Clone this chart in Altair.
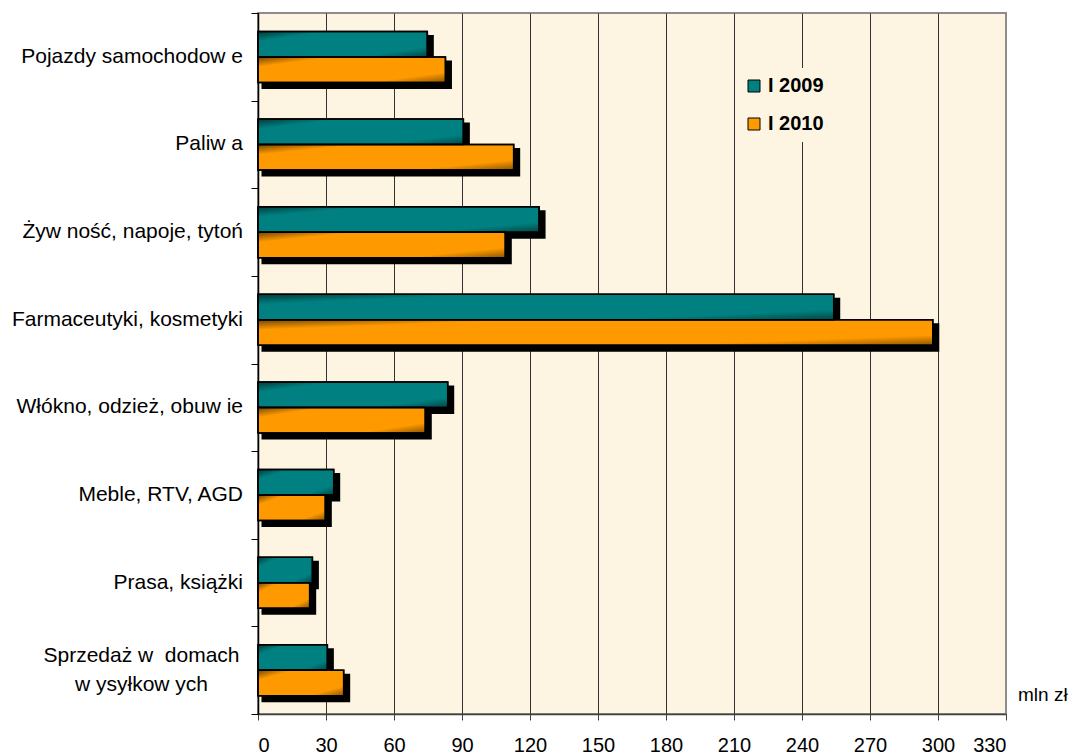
import altair as alt
import pandas as pd

categories = [
    "Pojazdy samochodow e",
    "Paliw a",
    "Żyw ność, napoje, tytoń",
    "Farmaceutyki, kosmetyki",
    "Włókno, odzież, obuw ie",
    "Meble, RTV, AGD",
    "Prasa, książki",
    "Sprzedaż w \u00a0domach\nw ysyłkow ych",
]
series = ["I 2009", "I 2010"]
values_2009 = [74.7, 90.6, 124.0, 254.0, 83.7, 33.4, 24.0, 30.6]
values_2010 = [82.7, 112.8, 109.1, 297.7, 73.8, 29.7, 22.8, 37.8]
x_ticks = list(range(0, 331, 30))
unit_label = "mln zł"

rows = []
for c, a, b in zip(categories, values_2009, values_2010):
    rows.append({"category": c, "series": series[0], "value": a})
    rows.append({"category": c, "series": series[1], "value": b})
df = pd.DataFrame(rows)
df_cat = pd.DataFrame({"category": categories})

W, H = 748, 701
FONT = "Liberation Sans"
cream = "#FDF5E1"
teal = "#008080"
orange = "#FF9900"

yscale = alt.Scale(domain=categories, paddingInner=0, paddingOuter=0)
xscale = alt.Scale(domain=[0, 330], nice=False, zero=True)

bar_top, bar_bot = 18.4, 69.4
sh = 5

x_axis = alt.Axis(
    values=x_ticks, title=None, grid=True,
    gridColor=alt.condition("datum.value >= 330", alt.value("#8c8c8c"), alt.value("#333333")),
    gridWidth=1, tickSize=6, tickColor="#404040", domainColor="#404040", domainWidth=1.5,
    labelFont=FONT, labelFontSize=20, labelColor="black", labelPadding=15,
)
y_axis = alt.Axis(
    title=None, labels=False, tickBand="extent", ticks=True, tickSize=7,
    tickColor="black", domainColor="black", domainWidth=1.5, grid=False,
)

X = alt.X("value:Q", scale=xscale, axis=x_axis)
Y = alt.Y("category:N", scale=yscale, axis=y_axis, sort=categories)

base = alt.Chart(df)

shadow = base.mark_bar(color="black", stroke="black", strokeWidth=3, xOffset=sh, x2Offset=sh).encode(
    x=X, y=Y,
    yOffset=alt.YOffset("series:N", sort=series,
                        scale=alt.Scale(domain=series, range=[bar_top + sh, bar_bot + sh])),
)

bars = base.mark_bar(stroke="black", strokeWidth=1.5).encode(
    x=X, y=Y,
    yOffset=alt.YOffset("series:N", sort=series,
                        scale=alt.Scale(domain=series, range=[bar_top, bar_bot])),
    color=alt.Color(
        "series:N",
        scale=alt.Scale(domain=series, range=[teal, orange]),
        legend=alt.Legend(
            title=None, orient="none", legendX=478, legendY=55,
            symbolType="square", symbolSize=144, symbolStrokeColor="black",
            symbolStrokeWidth=1, symbolOpacity=1,
            labelFont=FONT, labelFontSize=20, labelFontWeight="bold", labelColor="black",
            rowPadding=18, labelOffset=4, fillColor=cream, padding=8,
        ),
    ),
)

grad = alt.LinearGradient(
    gradient="linear", x1=0, y1=0, x2=1, y2=1,
    stops=[
        alt.GradientStop(color="rgba(0,0,0,0.55)", offset=0),
        alt.GradientStop(color="rgba(0,0,0,0)", offset=0.2),
        alt.GradientStop(color="rgba(0,0,0,0)", offset=0.8),
        alt.GradientStop(color="rgba(0,0,0,0.45)", offset=1),
    ],
)
shade = base.mark_bar(fill=grad, stroke="black", strokeWidth=1.5).encode(
    x=X, y=Y,
    yOffset=alt.YOffset("series:N", sort=series,
                        scale=alt.Scale(domain=series, range=[bar_top, bar_bot])),
)

lab1 = alt.Chart(df_cat).transform_filter("indexof(datum.category, '\\n') < 0").mark_text(
    align="right", baseline="middle", fontSize=21, font=FONT, color="black"
).encode(y=Y, x=alt.value(-15), text="category:N")
lab2 = alt.Chart(df_cat).transform_filter("indexof(datum.category, '\\n') >= 0").mark_text(
    align="center", baseline="middle", fontSize=21, font=FONT, color="black",
    lineBreak="\n", lineHeight=29, dy=-14.5,
).encode(y=Y, x=alt.value(-116.5), text="category:N")
unit = alt.Chart(pd.DataFrame({"t": [unit_label]})).mark_text(
    align="left", baseline="middle", fontSize=19, font=FONT, color="black"
).encode(x=alt.value(W + 12), y=alt.value(682), text="t:N")

chart = alt.layer(shadow, bars, shade, lab1, lab2, unit).resolve_scale(
    yOffset="independent"
).properties(
    width=W, height=H,
    autosize=alt.AutoSizeParams(type="none"),
    padding={"left": 250, "top": 5, "right": 64, "bottom": 40},
    background="white",
).configure(font=FONT).configure_view(
    fill=cream, stroke="#8c8c8c", strokeWidth=2
)

chart.save("out.html", embed_options={"renderer": "svg", "actions": False})
